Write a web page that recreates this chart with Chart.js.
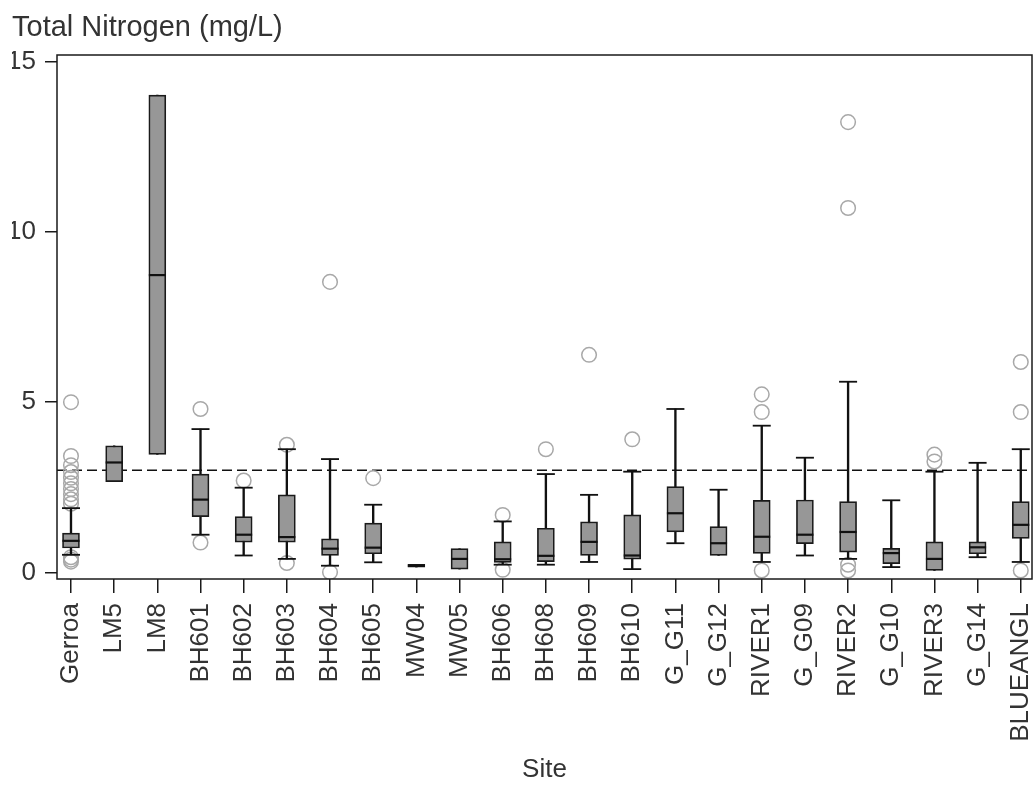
<!DOCTYPE html>
<html>
<head>
<meta charset="utf-8">
<script src="https://cdn.jsdelivr.net/npm/chart.js@4.4.1/dist/chart.umd.min.js"></script>
<style>
  html, body { margin: 0; padding: 0; background: #ffffff; }
  #wrap { width: 1033px; height: 785px; }
</style>
</head>
<body>
<div id="wrap"><canvas id="c" width="1033" height="785"></canvas></div>
<script>
// ---- data ----
const sites = ['Gerroa','LM5','LM8','BH601','BH602','BH603','BH604','BH605','MW04','MW05','BH606','BH608','BH609','BH610','G_G11','G_G12','RIVER1','G_G09','RIVER2','G_G10','RIVER3','G_G14','BLUEANGL'];
const q1     = [0.72, 2.67, 3.47, 1.64, 0.89, 0.89, 0.50, 0.55, 0.16, 0.10, 0.30, 0.32, 0.50, 0.39, 1.19, 0.50, 0.56, 0.85, 0.60, 0.26, 0.06, 0.55, 1.00];
const median = [0.93, 3.23, 8.73, 2.14, 1.11, 1.04, 0.70, 0.73, 0.20, 0.40, 0.39, 0.49, 0.90, 0.50, 1.74, 0.86, 1.05, 1.11, 1.19, 0.57, 0.40, 0.74, 1.40];
const q3     = [1.16, 3.72, 14.01, 2.89, 1.64, 2.28, 0.99, 1.45, 0.24, 0.70, 0.90, 1.30, 1.49, 1.69, 2.52, 1.35, 2.12, 2.13, 2.08, 0.71, 0.90, 0.90, 2.08];
const whiskerLow  = [0.52, null, null, 1.11, 0.50, 0.40, 0.20, 0.30, null, null, 0.23, 0.23, 0.31, 0.10, 0.86, null, 0.31, 0.50, 0.40, 0.16, null, 0.45, 0.31];
const whiskerHigh = [1.89, null, null, 4.21, 2.49, 3.62, 3.33, 1.99, null, null, 1.50, 2.89, 2.28, 2.96, 4.80, 2.43, 4.31, 3.37, 5.60, 2.12, 2.96, 3.22, 3.62];
const outliers = [
  [5.0, 3.42, 3.15, 2.95, 2.78, 2.62, 2.45, 2.30, 2.15, 2.02, 0.45, 0.38, 0.32], // Gerroa
  [], [],
  [4.80, 0.88],          // BH601
  [2.70],                // BH602
  [3.75, 0.28],          // BH603
  [8.53, 0.01],          // BH604
  [2.77],                // BH605
  [], [],
  [1.69, 0.08],          // BH606
  [3.62],                // BH608
  [6.39],                // BH609
  [3.91],                // BH610
  [], [],
  [5.23, 4.71, 0.06],    // RIVER1
  [],
  [13.22, 10.70, 0.23, 0.06], // RIVER2
  [],
  [3.46, 3.26],          // RIVER3
  [],
  [6.18, 4.71, 0.06]     // BLUEANGL
];
const threshold = 3;
const yTicks = [0, 5, 10, 15];
const yMin = -0.19, yMax = 15.19;
const xMin = -0.324, xMax = 22.26;

// ---- build library data ----
const boxData = sites.map((s, i) => ({ x: i, y: [q1[i], q3[i]] }));
const whiskerData = sites.map((s, i) => ({ x: i, y: [whiskerLow[i] ?? q1[i], whiskerHigh[i] ?? q3[i]] }));
const medianData = sites.map((s, i) => ({ x: i, y: median[i] }));
const capData = [];
sites.forEach((s, i) => {
  if (whiskerLow[i] !== null) capData.push({ x: i, y: whiskerLow[i] });
  if (whiskerHigh[i] !== null) capData.push({ x: i, y: whiskerHigh[i] });
});
const outlierData = outliers.flatMap((vals, i) => vals.map(v => ({ x: i, y: v })));

const FONT = "'Liberation Sans', Arial, sans-serif";
const TXT = '#333333';
const LINE = '#1a1a1a';

const framePlugin = {
  id: 'frame',
  beforeDatasetsDraw(chart) {
    const { ctx, chartArea: a, scales } = chart;
    const py = scales.y.getPixelForValue(threshold);
    ctx.save();
    ctx.setLineDash([10, 5]);
    ctx.lineWidth = 1.6;
    ctx.strokeStyle = '#111111';
    ctx.beginPath();
    ctx.moveTo(a.left, py);
    ctx.lineTo(a.right, py);
    ctx.stroke();
    ctx.restore();
  },
  afterDraw(chart) {
    const { ctx, chartArea: a } = chart;
    ctx.save();
    ctx.lineWidth = 1.5;
    ctx.strokeStyle = LINE;
    ctx.strokeRect(a.left, a.top, a.right - a.left, a.bottom - a.top);
    ctx.restore();
  }
};

new Chart(document.getElementById('c'), {
  type: 'bar',
  data: {
    datasets: [
      { type: 'scatter', data: capData, pointStyle: 'line', radius: 9, borderWidth: 1.8, borderColor: '#111111', backgroundColor: '#111111' },
      { type: 'scatter', data: medianData, pointStyle: 'line', radius: 8.5, borderWidth: 2.2, borderColor: '#111111', backgroundColor: '#111111' },
      { type: 'bar', data: boxData, grouped: false, barThickness: 17, backgroundColor: '#979797', borderColor: LINE, borderWidth: 1.7, borderSkipped: false },
      { type: 'bar', data: whiskerData, grouped: false, barThickness: 1.7, backgroundColor: '#111111', borderWidth: 0 },
      { type: 'scatter', data: outlierData, pointStyle: 'circle', radius: 7.3, borderWidth: 1.5, borderColor: '#a8a8a8', backgroundColor: 'rgba(0,0,0,0)' }
    ]
  },
  options: {
    responsive: false,
    animation: false,
    events: [],
    layout: { autoPadding: false, padding: { left: 12, right: 1, top: 0, bottom: 0 } },
    plugins: {
      legend: { display: false },
      tooltip: { enabled: false },
      title: {
        display: true,
        text: 'Total Nitrogen (mg/L)',
        align: 'start',
        color: TXT,
        font: { family: FONT, size: 29, weight: 'normal', lineHeight: 1.2 },
        padding: { top: 11, bottom: 9.2 }
      }
    },
    scales: {
      x: {
        type: 'linear',
        min: xMin, max: xMax,
        offset: false,
        grid: { display: true, offset: false, drawOnChartArea: false, drawTicks: true, tickLength: 14, color: LINE, lineWidth: 1.5 },
        border: { display: false },
        ticks: {
          stepSize: 1,
          includeBounds: false,
          autoSkip: false,
          minRotation: 90, maxRotation: 90,
          padding: 10,
          color: TXT,
          font: { family: FONT, size: 26 },
          callback: (v) => sites[v] ?? ''
        },
        title: { display: true, text: 'Site', color: TXT, font: { family: FONT, size: 26, lineHeight: 1.2 }, padding: { top: 0, bottom: 0 } },
        afterFit(scale) { scale.height = 206; scale.paddingLeft = 0; scale.paddingRight = 0; }
      },
      y: {
        type: 'linear',
        min: yMin, max: yMax,
        grid: { display: true, drawOnChartArea: false, drawTicks: true, tickLength: 12, color: LINE, lineWidth: 1.5 },
        border: { display: false },
        afterBuildTicks(scale) { scale.ticks = yTicks.map(v => ({ value: v })); },
        ticks: {
          padding: 9,
          color: TXT,
          font: { family: FONT, size: 26 }
        },
        afterFit(scale) { scale.width = 45; scale.paddingTop = 0; scale.paddingBottom = 0; }
      }
    }
  },
  plugins: [framePlugin]
});
</script>
</body>
</html>
